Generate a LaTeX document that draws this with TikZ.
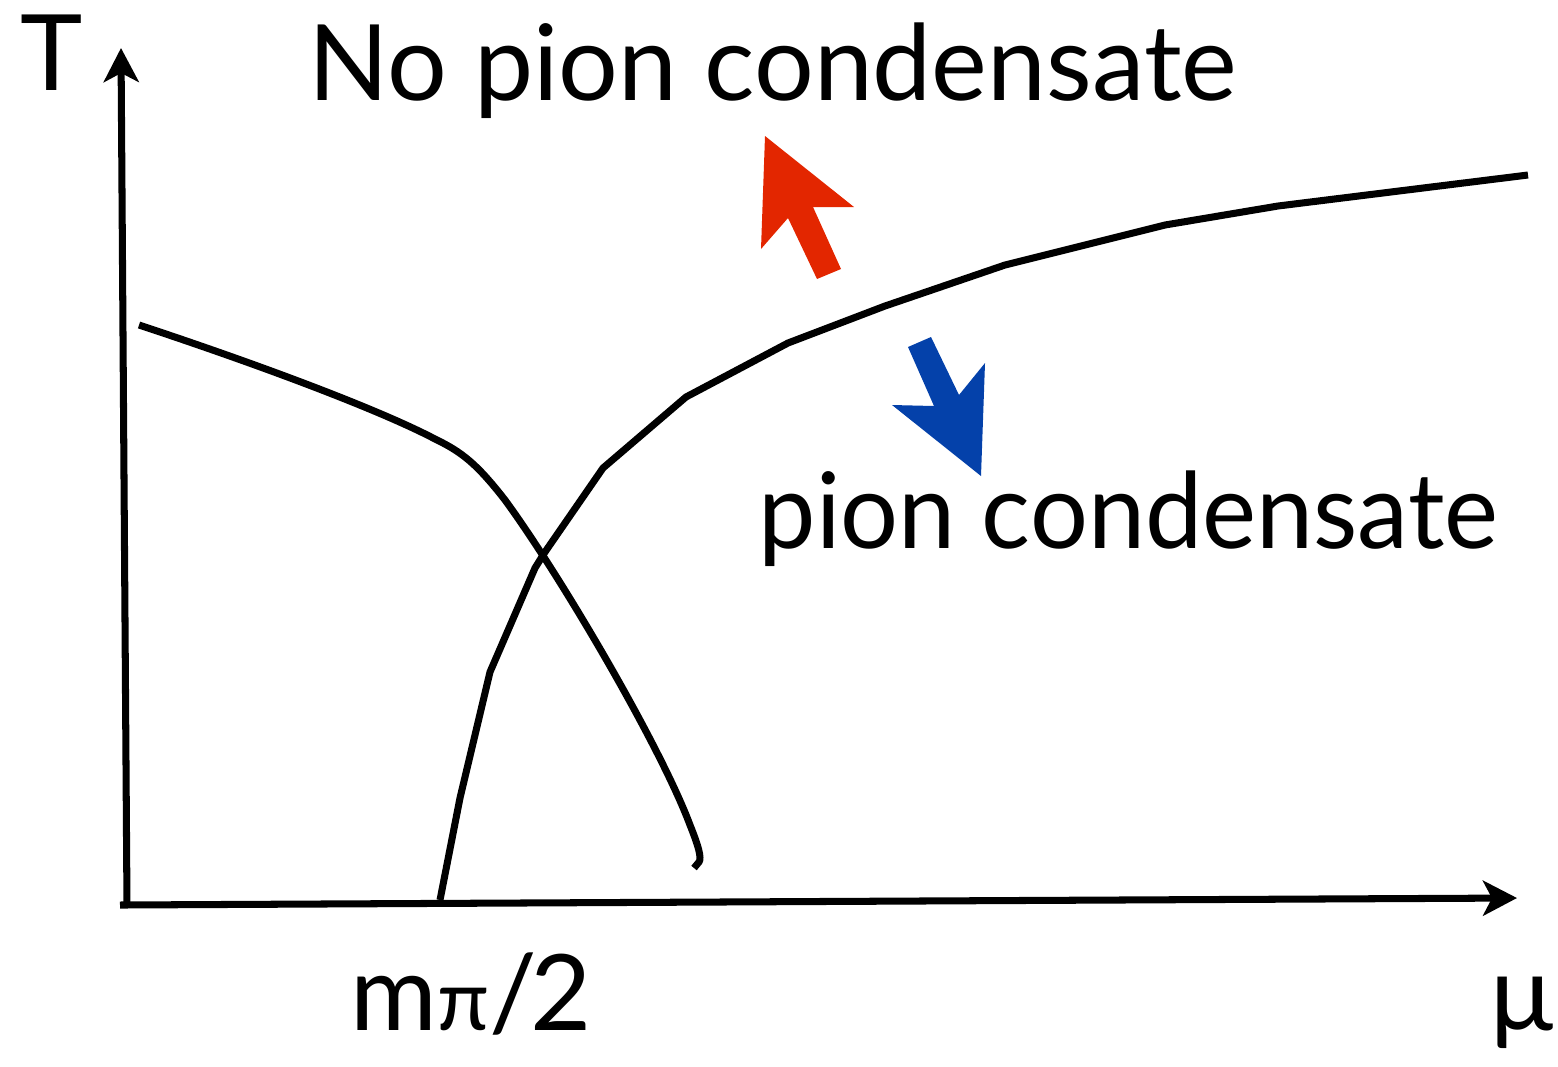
\documentclass[tikz,border=0pt]{standalone}
\usepackage{fontspec}
\setmainfont{Lato}
\usetikzlibrary{arrows.meta}
\definecolor{upred}{HTML}{E32600}
\definecolor{downblue}{HTML}{0441AA}
\tikzset{
  axis/.style  = {line width=2pt, -{Stealth[length=0.34cm,width=0.35cm,inset=0.09cm]}},
  curve/.style = {line width=2pt, line join=round},
  label/.style = {inner sep=0pt, anchor=base west, font=\fontsize{30}{34}\selectfont},
}
\begin{document}
\begin{tikzpicture}[x=0.01cm,y=-0.01cm]
\useasboundingbox (0,0) rectangle (1558,1066);
% axes
\coordinate (tbot) at (127,906);
\coordinate (ttop) at (121,48);
\coordinate (mubot) at (120,905);
\coordinate (mutip) at (1517,898);
\draw[axis] (tbot) -- (ttop);
\draw[axis] (mubot) -- (mutip);
% crossover lines
\draw[curve] (139,325) .. controls (260,365) and (380,410) .. (435,439)
  .. controls (462,452) and (477,464) .. (505,500)
  .. controls (560,575) and (660,745) .. (690,825)
  .. controls (698,845) and (702,858) .. (699,862) -- (694,868);
\draw[curve] (440,900) -- (460,798) -- (490,672) -- (535,568) -- (545,552) -- (603,468)
  -- (686,397) -- (788,343) -- (885,306) -- (1005,265) -- (1165,225) -- (1278,206) -- (1528,175);
% block arrows
\fill[upred] (765,136) -- (854,207) -- (813,207) -- (841,269) -- (817,279)
  -- (788,218) -- (761,249) -- cycle;
\fill[downblue] (981,476) -- (892,405) -- (934,406) -- (908,347) -- (931,337)
  -- (959,395) -- (985,363) -- cycle;
% labels
\node[label] (tlab) at (20,90) {T};
\node[label] (nopi) at (308,100) {No pion condensate};
\node[label,xscale=0.97] (pi) at (758,548) {pion condensate};
\node[label] (mpi) at (350,1030) {m{\fontsize{24}{28}\selectfont π}/\kern-2pt2};
\node[label,anchor=base east] (mu) at (1554,1030) {μ};
\end{tikzpicture}
\end{document}
